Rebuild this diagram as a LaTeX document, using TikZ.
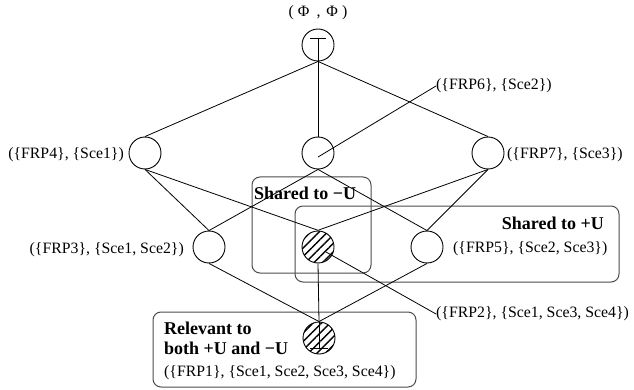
\documentclass[tikz,border=0pt]{standalone}
\usepackage{fontspec}
\setmainfont{Liberation Serif}
\usetikzlibrary{patterns.meta}
\begin{document}
\begin{tikzpicture}[x=1pt,y=-1pt,
  lat/.style={circle,draw,line width=0.9pt,minimum size=32pt,inner sep=0pt},
  hatch/.style={lat,pattern={Lines[angle=45,distance=6pt,line width=1.4pt]}},
  edge/.style={line width=0.8pt},
  lbl/.style={inner sep=0pt,font=\fontsize{15.8}{18}\selectfont},
  blbl/.style={inner sep=0pt,font=\fontsize{18}{20}\selectfont\bfseries},
  grp/.style={draw=black!70,line width=1pt,rounded corners=8pt}]
\useasboundingbox (0,0) rectangle (634,390);
% group boxes
\draw[grp] (252,177) rectangle (371,273);
\draw[grp] (295,206) rectangle (619,282);
\draw[grp] (153,312) rectangle (416,387);
% lattice nodes
\node[lat] (T) at (318,45) {};
\node[lat] (F4) at (145,153) {};
\node[lat] (F6) at (318,153) {};
\node[lat] (F7) at (488,153) {};
\node[lat] (F3) at (209,247) {};
\node[hatch] (F2) at (318,247) {};
\node[lat] (F5) at (427,247) {};
\node[hatch] (F1) at (319,338) {};
% top and bottom symbols
\coordinate (tl) at (310,38); \coordinate (tr) at (326,38); \coordinate (tm) at (318,38);
\draw[edge] (tl) -- (tr);
\draw[edge] (tm) -- (T.south);
\coordinate (bl) at (310,348); \coordinate (br) at (328,348); \coordinate (bm) at (319,348);
\draw[edge] (bl) -- (br);
\draw[edge] (F1.north) -- (bm);
% edges
\draw[edge] (T.south) -- (F4.north);
\draw[edge] (T.south) -- (F6.north);
\draw[edge] (T.south) -- (F7.north);
\draw[edge] (F4.south) -- (F3.north);
\draw[edge] (F4.south) -- (F2.north);
\draw[edge] (F6.south) -- (F3.north);
\draw[edge] (F6.south) -- (F5.north);
\draw[edge] (F7.south) -- (F2.north);
\draw[edge] (F7.south) -- (F5.north);
\draw[edge] (F3.south) -- (F1.north);
\draw[edge] (F2.south) -- (F1.north);
\draw[edge] (F5.south) -- (F1.north);
% labels
\node[lbl] (lT) at (318,13) {(\hspace{4pt}Φ\hspace{7pt},\hspace{6pt}Φ\hspace{4pt})};
\node[lbl,anchor=west] (l6) at (436,86) {(\{FRP6\}, \{Sce2\})};
\node[lbl,anchor=east] (l4) at (124,155) {(\{FRP4\}, \{Sce1\})};
\node[lbl,anchor=west] (l7) at (507,155) {(\{FRP7\}, \{Sce3\})};
\node[lbl,anchor=east] (l3) at (184,250) {(\{FRP3\}, \{Sce1, Sce2\})};
\node[lbl,anchor=west] (l5) at (453,249) {(\{FRP5\}, \{Sce2, Sce3\})};
\node[lbl,anchor=west] (l2) at (436,314) {(\{FRP2\}, \{Sce1, Sce3, Sce4\})};
\node[lbl,anchor=west] (l1) at (164,373) {(\{FRP1\}, \{Sce1, Sce2, Sce3, Sce4\})};
\node[blbl,anchor=west] (gm) at (254,193) {Shared to −U};
\node[blbl,anchor=east] (gp) at (604,223) {Shared to +U};
\node[blbl,anchor=west] (gr1) at (164,328) {Relevant to};
\node[blbl,anchor=west] (gr2) at (164,348) {both +U and −U};
% label pointers
\coordinate (p6) at (318,157);
\coordinate (p2) at (326,252);
\draw[edge] (p6) -- (l6.west);
\draw[edge] (p2) -- (l2.west);
\end{tikzpicture}
\end{document}
